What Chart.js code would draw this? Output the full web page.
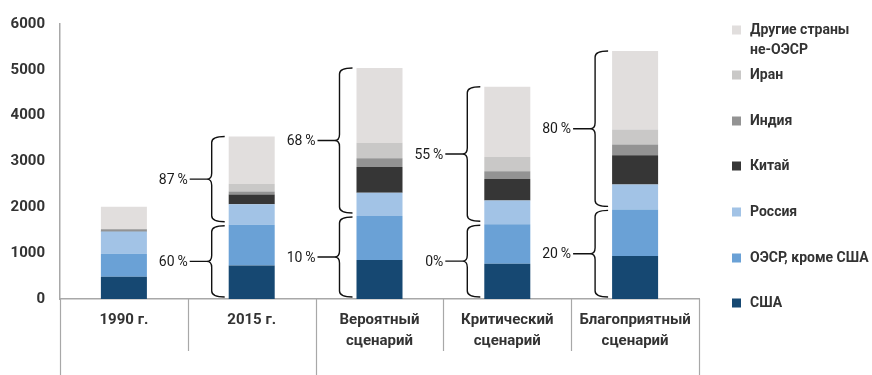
<!DOCTYPE html>
<html lang="ru">
<head>
<meta charset="utf-8">
<title>Добыча по регионам и сценариям</title>
<script src="https://cdn.jsdelivr.net/npm/chart.js@4.4.1/dist/chart.umd.min.js"></script>
<style>
  html, body { margin: 0; padding: 0; background: #ffffff; }
  #wrap { width: 872px; height: 375px; }
</style>
</head>
<body>
<div id="wrap"><canvas id="chart" width="872" height="375"></canvas></div>
<script>
// Categories (multi-line labels as arrays)
const categories = [
  '1990 г.',
  '2015 г.',
  ['Вероятный', 'сценарий'],
  ['Критический', 'сценарий'],
  ['Благоприятный', 'сценарий']
];

// Stacked series, bottom to top
const usa          = [485,  730,  850,  770,  940];
const oecdExUsa    = [500,  890,  960,  860, 1015];
const russia       = [490,  450,  510,  520,  545];
const china        = [10,   210,  560,  470,  635];
const india        = [35,    65,  190,  170,  235];
const iran         = [15,   170,  340,  310,  330];
const otherNonOecd = [480, 1030, 1630, 1530, 1710];

const seriesNames  = ['США', 'ОЭСР, кроме США', 'Россия', 'Китай', 'Индия', 'Иран', 'Другие страны не-ОЭСР'];
const seriesColors = ['#164872', '#6aa1d6', '#a2c3e6', '#363636', '#939393', '#c9c8c7', '#e1dedd'];

// Shares shown next to the braces (upper: non-OECD part, lower: OECD part)
const upperShare = ['', '87\u2009%', '68\u2009%', '55\u2009%', '80\u2009%'];
const lowerShare = ['', '60\u2009%', '10\u2009%', '0%',       '20\u2009%'];

// Y axis ticks
const yMin = 0, yMax = 6000, yStep = 1000;

// Category groups on the x axis (first index of each group, plus end)
const groupBounds = [0, 2, 5];

const seriesValues = [usa, oecdExUsa, russia, china, india, iran, otherNonOecd];

const FONT = "Roboto, 'Noto Sans', 'DejaVu Sans', sans-serif";
const AXIS_GRAY = '#a8a8a8';
const TEXT_DARK = '#333333';

// Curly braces to the left of the bars
const bracePlugin = {
  id: 'braces',
  afterDatasetsDraw(chart) {
    const ctx = chart.ctx;
    const y = chart.scales.y;
    const meta = chart.getDatasetMeta(0);
    ctx.save();
    ctx.strokeStyle = '#111111';
    ctx.lineWidth = 1.4;
    ctx.fillStyle = '#1a1a1a';
    ctx.font = '14px ' + FONT;
    ctx.textAlign = 'right';
    ctx.textBaseline = 'middle';
    categories.forEach((c, i) => {
      if (!upperShare[i] && !lowerShare[i]) return;
      const bar = meta.data[i];
      const left = bar.x - bar.width / 2;
      const hookX = left - 4, spineX = left - 17, tipX = left - 22;
      const oecdTop = usa[i] + oecdExUsa[i];
      let total = 0;
      seriesValues.forEach(s => total += s[i]);
      const drawBrace = (yTop, yBot, text) => {
        const m = (yTop + yBot) / 2, r = 6;
        ctx.beginPath();
        ctx.moveTo(hookX, yTop);
        ctx.quadraticCurveTo(spineX, yTop, spineX, yTop + r);
        ctx.lineTo(spineX, m - r);
        ctx.quadraticCurveTo(spineX, m, tipX, m);
        ctx.quadraticCurveTo(spineX, m, spineX, m + r);
        ctx.lineTo(spineX, yBot - r);
        ctx.quadraticCurveTo(spineX, yBot, hookX, yBot);
        ctx.moveTo(tipX, m);
        ctx.lineTo(tipX - 17, m);
        ctx.stroke();
        ctx.fillText(text, tipX - 19, m + 1);
      };
      drawBrace(y.getPixelForValue(total), y.getPixelForValue(oecdTop) - 3, upperShare[i]);
      drawBrace(y.getPixelForValue(oecdTop) + 1, y.getPixelForValue(0) - 2, lowerShare[i]);
    });
    ctx.restore();
  }
};

// Category separators below the x axis; group boundaries run longer
const separatorPlugin = {
  id: 'separators',
  afterDraw(chart) {
    const ctx = chart.ctx;
    const x = chart.scales.x;
    const base = chart.chartArea.bottom;
    const n = categories.length;
    const half = (x.getPixelForValue(1) - x.getPixelForValue(0)) / 2;
    ctx.save();
    ctx.strokeStyle = AXIS_GRAY;
    ctx.lineWidth = 1.2;
    for (let i = 0; i <= n; i++) {
      const px = i < n ? x.getPixelForValue(i) - half : x.getPixelForValue(n - 1) + half;
      const isGroup = groupBounds.includes(i);
      ctx.beginPath();
      ctx.moveTo(Math.round(px) + 0.5, base);
      ctx.lineTo(Math.round(px) + 0.5, isGroup ? chart.height : base + 52);
      ctx.stroke();
    }
    ctx.restore();
  }
};

// Legend on the right, top entry = top of stack
const legendPlugin = {
  id: 'sideLegend',
  afterDraw(chart) {
    const ctx = chart.ctx;
    ctx.save();
    ctx.font = 'bold 14px ' + FONT;
    ctx.textAlign = 'left';
    ctx.textBaseline = 'middle';
    const boxX = 732, textX = 750, maxW = 120;
    const rows = [30, 75, 121, 166, 212, 258, 303];
    const order = seriesNames.map((n, i) => i).reverse();
    order.forEach((si, k) => {
      const yy = rows[k];
      ctx.fillStyle = seriesColors[si];
      ctx.fillRect(boxX, yy - 4.5, 9, 9);
      // wrap long names into lines that fit the legend column
      const name = seriesNames[si];
      const lines = [];
      if (ctx.measureText(name).width <= maxW + 8) {
        lines.push(name);
      } else {
        let cur = '';
        name.split(' ').forEach(w => {
          const t = cur ? cur + ' ' + w : w;
          if (ctx.measureText(t).width > maxW && cur) { lines.push(cur); cur = w; }
          else cur = t;
        });
        lines.push(cur);
      }
      ctx.fillStyle = TEXT_DARK;
      lines.forEach((ln, j) => ctx.fillText(ln, textX, yy + j * 20));
    });
    ctx.restore();
  }
};

const datasets = seriesValues.map((vals, i) => ({
  label: seriesNames[i],
  data: vals,
  backgroundColor: seriesColors[i],
  borderWidth: 0,
  barPercentage: 0.36,
  categoryPercentage: 1.0
}));

new Chart(document.getElementById('chart'), {
  type: 'bar',
  data: { labels: categories, datasets },
  options: {
    responsive: false,
    devicePixelRatio: 1,
    animation: false,
    layout: { padding: { top: 18, right: 173, bottom: 0, left: 0 } },
    plugins: {
      legend: { display: false },
      tooltip: { enabled: false }
    },
    scales: {
      x: {
        stacked: true,
        grid: { display: false, drawTicks: false },
        border: { display: true, color: AXIS_GRAY, width: 1.5 },
        ticks: {
          color: TEXT_DARK,
          font: { family: FONT, size: 15, weight: 'bold', lineHeight: 1.4 },
          padding: 11,
          maxRotation: 0,
          autoSkip: false
        },
        afterFit(s) { s.height = 76; }
      },
      y: {
        stacked: true,
        min: yMin,
        max: yMax,
        grid: { display: false, drawTicks: false },
        border: { display: true, color: AXIS_GRAY, width: 1.5 },
        ticks: {
          stepSize: yStep,
          color: TEXT_DARK,
          font: { family: FONT, size: 15, weight: 'bold' },
          padding: 15,
          callback: v => String(v)
        },
        afterFit(s) { s.width = 60; }
      }
    }
  },
  plugins: [bracePlugin, separatorPlugin, legendPlugin]
});
</script>
</body>
</html>
